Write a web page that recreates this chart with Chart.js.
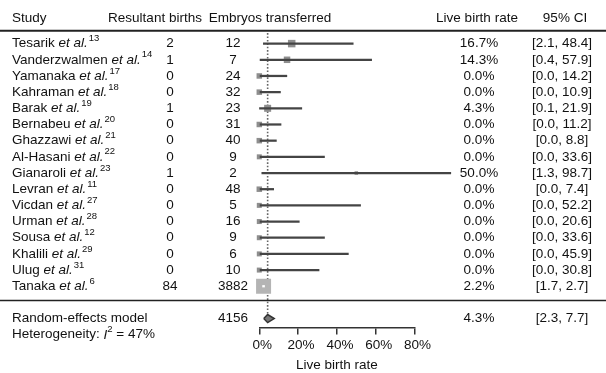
<!DOCTYPE html>
<html>
<head>
<meta charset="utf-8">
<script src="https://cdn.jsdelivr.net/npm/chart.js@4.4.0/dist/chart.umd.min.js"></script>
<style>
  body { margin: 0; background: #fff; }
  canvas { display: block; }
</style>
</head>
<body>
<canvas id="forest" width="606" height="373"></canvas>
<script>
'use strict';
//////////////// data

let studies = ['Tesarik', 'Vanderzwalmen', 'Yamanaka', 'Kahraman', 'Barak', 'Bernabeu', 'Ghazzawi',
  'Al-Hasani', 'Gianaroli', 'Levran', 'Vicdan', 'Urman', 'Sousa', 'Khalili', 'Ulug', 'Tanaka'];
let refs = ['13', '14', '17', '18', '19', '20', '21', '22', '23', '11', '27', '28', '12', '29', '31', '6'];
let births = [2, 1, 0, 0, 1, 0, 0, 0, 1, 0, 0, 0, 0, 0, 0, 84];
let embryos = [12, 7, 24, 32, 23, 31, 40, 9, 2, 48, 5, 16, 9, 6, 10, 3882];
let rates = [16.7, 14.3, 0, 0, 4.3, 0, 0, 0, 50.0, 0, 0, 0, 0, 0, 0, 2.2];
let ciLow = [2.1, 0.4, 0, 0, 0.1, 0, 0, 0, 1.3, 0, 0, 0, 0, 0, 0, 1.7];
let ciHigh = [48.4, 57.9, 14.2, 10.9, 21.9, 11.2, 8.8, 33.6, 98.7, 7.4, 52.2, 20.6, 33.6, 45.9, 30.8, 2.7];

let totalEmbryos = 4156;
let modelRate = 4.3;
let modelLow = 2.3;
let modelHigh = 7.7;
let heterogeneity = 47;

let xTicks = [0, 20, 40, 60, 80];

//////////////// rows on the y scale
let modelRow = studies.length + 1;
let hetRow = studies.length + 2;
let headerRow = -1.55;

// box side in px, roughly following study weight
let boxSide = [7.5, 6.5, 5.5, 5.5, 7, 5.5, 5.5, 5, 3.5, 5.5, 5, 5, 5, 5, 5, 15];

let font = '"Liberation Sans", Arial, sans-serif';
let fsize = 13.5;

function fmt1 (v) {
  return v.toFixed(1);
}

//////////////// text columns, lines
let tablePlugin = {
  id: 'table',
  afterDraw (chart) {
    let ctx = chart.ctx;
    let y = chart.scales.y;
    ctx.save();
    ctx.fillStyle = '#111';
    ctx.textBaseline = 'middle';

    function text (str, x, row, align, style) {
      ctx.font = (style || '') + ' ' + fsize + 'px ' + font;
      ctx.textAlign = align || 'left';
      ctx.fillText(str, x, y.getPixelForValue(row));
    }

    // header
    text('Study', 12, headerRow);
    text('Resultant births', 155, headerRow, 'center');
    text('Embryos transferred', 270, headerRow, 'center');
    text('Live birth rate', 477, headerRow, 'center');
    text('95% CI', 565, headerRow, 'center');

    // rule lines
    ctx.strokeStyle = '#222';
    ctx.lineWidth = 2;
    ctx.beginPath();
    ctx.moveTo(0, y.getPixelForValue(-0.8));
    ctx.lineTo(606, y.getPixelForValue(-0.8));
    ctx.stroke();
    ctx.lineWidth = 1.5;
    ctx.beginPath();
    ctx.moveTo(0, y.getPixelForValue(15.88));
    ctx.lineTo(606, y.getPixelForValue(15.88));
    ctx.stroke();

    // study rows
    for (let i = 0; i < studies.length; i++) {
      let py = y.getPixelForValue(i);
      ctx.textAlign = 'left';
      ctx.font = fsize + 'px ' + font;
      let x = 12;
      ctx.fillText(studies[i] + ' ', x, py);
      x += ctx.measureText(studies[i] + ' ').width;
      ctx.font = 'italic ' + fsize + 'px ' + font;
      ctx.fillText('et al.', x, py);
      x += ctx.measureText('et al.').width + 1;
      ctx.font = '9.5px ' + font;
      ctx.fillText(refs[i], x, py - 5);

      text(String(births[i]), 170, i, 'center');
      text(String(embryos[i]), 233, i, 'center');
      text(fmt1(rates[i]) + '%', 479, i, 'center');
      text('[' + fmt1(ciLow[i]) + ', ' + fmt1(ciHigh[i]) + ']', 562, i, 'center');
    }

    // model row
    text('Random-effects model', 12, modelRow);
    text(String(totalEmbryos), 233, modelRow, 'center');
    text(fmt1(modelRate) + '%', 479, modelRow, 'center');
    text('[' + fmt1(modelLow) + ', ' + fmt1(modelHigh) + ']', 562, modelRow, 'center');

    // heterogeneity
    let hy = y.getPixelForValue(hetRow);
    ctx.textAlign = 'left';
    ctx.font = fsize + 'px ' + font;
    let hx = 12;
    ctx.fillText('Heterogeneity: ', hx, hy);
    hx += ctx.measureText('Heterogeneity: ').width;
    ctx.font = 'italic ' + fsize + 'px ' + font;
    ctx.fillText('I', hx, hy);
    hx += ctx.measureText('I').width;
    ctx.font = '9.5px ' + font;
    ctx.fillText('2', hx, hy - 5);
    hx += ctx.measureText('2').width;
    ctx.font = fsize + 'px ' + font;
    ctx.fillText(' = ' + heterogeneity + '%', hx, hy);

    ctx.restore();
  }
};

//////////////// chart
let ciData = [];
let pointData = [];
for (let i = 0; i < studies.length; i++) {
  ciData.push({ x: [ciLow[i], ciHigh[i]], y: i });
  pointData.push({ x: rates[i], y: i });
}

let diamond = [
  { x: modelLow, y: modelRow },
  { x: modelRate, y: modelRow - 0.25 },
  { x: modelHigh, y: modelRow },
  { x: modelRate, y: modelRow + 0.25 },
  { x: modelLow, y: modelRow }
];

let last = studies.length - 1;

let ctx = document.getElementById('forest').getContext('2d');
let forest = new Chart(ctx, {
  type: 'scatter',
  data: {
    datasets: [
      {
        type: 'bar',
        indexAxis: 'y',
        data: ciData,
        backgroundColor: studies.map((s, i) => i === last ? '#ffffff' : '#444444'),
        borderWidth: 0,
        barThickness: 1.6,
        clip: false,
        order: 0
      },
      {
        type: 'scatter',
        data: pointData,
        pointStyle: 'rect',
        pointRadius: boxSide.map(s => s / Math.SQRT2),
        backgroundColor: studies.map((s, i) => i === last ? '#b4b4b4' : '#8e8e8e'),
        borderWidth: 0,
        clip: false,
        order: 1
      },
      {
        type: 'line',
        data: [{ x: modelRate, y: -0.65 }, { x: modelRate, y: modelRow - 0.25 }],
        borderColor: '#666',
        borderWidth: 1.6,
        borderDash: [1.6, 1.8],
        pointRadius: 0,
        fill: false,
        clip: false,
        order: 2
      },
      {
        type: 'line',
        data: diamond,
        borderColor: '#333',
        backgroundColor: '#777',
        borderWidth: 1.5,
        pointRadius: 0,
        fill: 'shape',
        tension: 0,
        clip: false,
        order: 0
      }
    ]
  },
  options: {
    responsive: false,
    animation: false,
    layout: { padding: { left: 259.3, right: 191.5, top: 0, bottom: 0 } },
    plugins: {
      legend: { display: false },
      tooltip: { enabled: false }
    },
    scales: {
      x: {
        type: 'linear',
        min: xTicks[0],
        max: xTicks[xTicks.length - 1],
        offset: false,
        afterFit (scale) { scale.height = 45.5; },
        afterBuildTicks (scale) { scale.ticks = xTicks.map(v => ({ value: v })); },
        border: { display: true, color: '#333', width: 1.5 },
        grid: { display: true, drawOnChartArea: false, tickLength: 7, color: '#333', lineWidth: 1.5 },
        ticks: {
          color: '#111',
          font: { family: font, size: fsize },
          padding: 3,
          labelOffset: 3,
          maxRotation: 0,
          callback: v => v + '%'
        },
        title: {
          display: true,
          text: 'Live birth rate',
          color: '#111',
          font: { family: font, size: fsize },
          padding: { top: 7, bottom: 0 }
        }
      },
      y: {
        type: 'linear',
        display: false,
        reverse: true,
        offset: false,
        min: -2.04,
        max: 17.55
      }
    }
  },
  plugins: [tablePlugin]
});
</script>
</body>
</html>
